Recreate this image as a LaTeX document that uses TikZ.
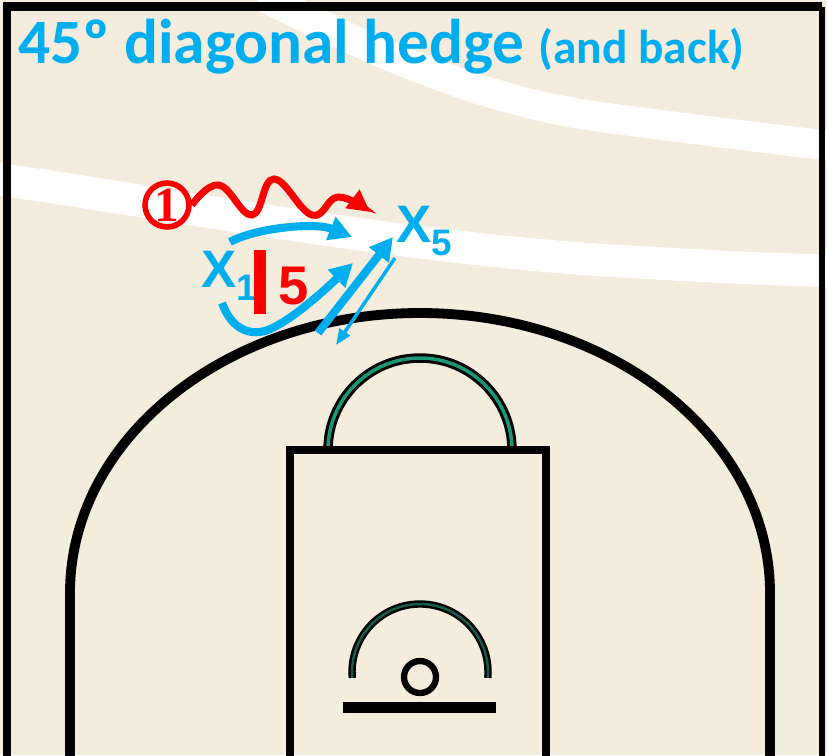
\documentclass[tikz,border=0pt]{standalone}
\usepackage{fontspec}
\setmainfont{Liberation Sans}
\newfontfamily\titlefont{Carlito}
\newfontfamily\numfont{Liberation Serif}
\usetikzlibrary{arrows.meta,positioning}
\definecolor{hgcyan}{RGB}{0,174,239}
\definecolor{hgred}{RGB}{250,0,0}
\definecolor{floorbg}{RGB}{244,236,221}
\definecolor{ftteal}{RGB}{24,150,118}
\definecolor{rateal}{RGB}{20,92,76}

\begin{document}
\begin{tikzpicture}[
  x=0.02cm, y=-0.02cm,
  courtline/.style={line width=5.6pt, black},
  floorline/.style={line width=17pt, white},
  bluearr/.style={line width=4.6pt, hgcyan, -{Triangle[length=13pt, width=13.5pt]}},
  thinarr/.style={line width=2pt, hgcyan, -{Triangle[length=9pt, width=7pt]}},
  wavearr/.style={line width=4pt, hgred, -{Triangle[length=12.5pt, width=12.5pt]}},
  player/.style={inner sep=0pt, anchor=base west, text=hgcyan,
                 font=\bfseries\fontsize{30}{31}\selectfont},
  circ/.style={circle, draw=hgred, line width=3.2pt, minimum size=25pt, inner sep=0pt,
               text=hgred, font=\numfont\bfseries\fontsize{28}{29}\selectfont}
]
\useasboundingbox (0,0) rectangle (827,755);
\clip (0,0) rectangle (827,755);
\fill[floorbg] (0,0) rectangle (827,755);
% floor markings
\draw[floorline] (260,-5) .. controls (380,55) and (480,100) .. (600,117) .. controls (700,130) and (780,140) .. (840,147);
\draw[floorline, line width=18.5pt] (-10,178) .. controls (150,200) and (380,245) .. (600,260) .. controls (700,266) and (780,270) .. (840,271);
% frame
\draw[line width=5pt] (7,760) -- (7,6.5) -- (822,6.5);
\draw[line width=3pt] (822,6.5) -- (822,760);
% half court
\draw[courtline] (70,760) -- (70,593) arc[start angle=180, end angle=360, x radius=350, y radius=280] -- (770,760);
\draw[black, line width=5.4pt] (328,450) arc[start angle=180, end angle=360, radius=92];
\draw[ftteal, line width=2pt] (328,450) arc[start angle=180, end angle=360, radius=92];
\draw[courtline, line width=5pt] (290,760) -- (290,450) -- (546,450) -- (546,760);
\draw[black, line width=4.2pt] (352.3,677.9) arc[start angle=175, end angle=365, radius=68];
\draw[rateal, line width=1.4pt] (352.3,677.9) arc[start angle=175, end angle=365, radius=68];
\draw[black, line width=3.6pt] (420,677) circle[radius=16];
\draw[black, line width=5.8pt] (343,707.5) -- (496,707.5);

% title
\node[anchor=base west, inner sep=0pt, text=hgcyan, font=\titlefont\bfseries\fontsize{36}{38}\selectfont]
  (title) at (18,63) {45º diagonal hedge {\fontsize{27}{28}\selectfont (and back)}};

% players
\node[circ] (o1) at (167,205) {1};
\node[player] (x1) at (201,287) {X\raisebox{-7.4pt}{\fontsize{21}{21}\selectfont 1}};
\node[player] (x5) at (396,242) {X\raisebox{-7.4pt}{\fontsize{21}{21}\selectfont 5}};
\node[player, text=hgred, font=\bfseries\fontsize{31}{32}\selectfont] (s5) at (278,304) {5};
\draw[hgred, line width=7pt] (260,250) -- (260,314);

% movement
\coordinate (w1e) at (370,212);
\draw[wavearr] plot[smooth, tension=0.7] coordinates {(o1.east) (219,185) (252,215) (274,179) (312,215) (338,197) (w1e)};
\coordinate (a1s) at (230,242);
\coordinate (a1e) at (352,237);
\draw[bluearr] (a1s) .. controls (255,228) and (315,222) .. (a1e);
\coordinate (a2s) at (222,303);
\coordinate (a2m) at (265,331);
\coordinate (a2e) at (353,263);
\draw[bluearr] (a2s) .. controls (232,330) and (250,335) .. (a2m) .. controls (290,323) and (330,285) .. (a2e);
\coordinate (a3s) at (318,333);
\coordinate (a3e) at (393,237);
\draw[bluearr] (a3s) -- (a3e);
\coordinate (a4s) at (395,258);
\coordinate (a4e) at (336,345);
\draw[thinarr] (a4s) -- (a4e);
\end{tikzpicture}
\end{document}
